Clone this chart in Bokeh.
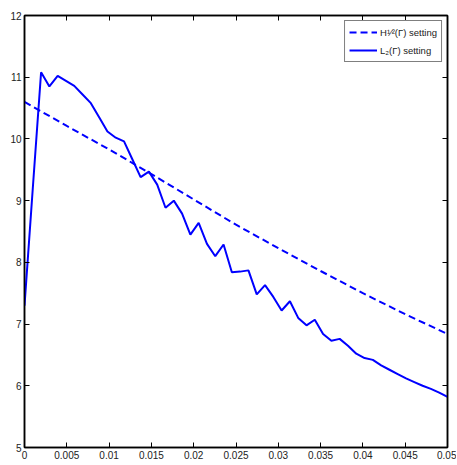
import numpy as np
from bokeh.plotting import figure
from bokeh.models import (Range1d, LinearAxis, FixedTicker, CustomJSTickFormatter,
                          Legend, LegendItem)
from bokeh.embed import file_html
from bokeh.resources import INLINE

# ---- data ----
x_ticks = [0, 0.005, 0.01, 0.015, 0.02, 0.025, 0.03, 0.035, 0.04, 0.045, 0.05]
y_ticks = [5, 6, 7, 8, 9, 10, 11, 12]

h_half_x = [0, 0.005, 0.01, 0.015, 0.02, 0.025, 0.03, 0.035, 0.04, 0.045, 0.05]
h_half_values = [10.60, 10.21, 9.83, 9.43, 9.02, 8.61, 8.23, 7.86, 7.50, 7.16, 6.84]

l2_values = [7.30, 9.20, 11.08, 10.85, 11.02, 10.94, 10.86, 10.72, 10.58, 10.35,
             10.12, 10.02, 9.96, 9.67, 9.38, 9.47, 9.26, 8.885, 9.00, 8.79,
             8.45, 8.64, 8.30, 8.10, 8.29, 7.84, 7.85, 7.87, 7.48, 7.63,
             7.44, 7.22, 7.37, 7.10, 6.98, 7.07, 6.84, 6.73, 6.76, 6.65,
             6.52, 6.45, 6.42, 6.33, 6.26, 6.19, 6.12, 6.06, 6.00, 5.95,
             5.89, 5.82]
l2_x = np.linspace(0, 0.05, len(l2_values))

legend_labels = ["H\u00b9\u2044\u00b2(\u0393) setting", "L\u2082(\u0393) setting"]

FONT = "Liberation Sans"
BLUE = "#0000ff"

p = figure(frame_width=423, frame_height=432,
           x_range=Range1d(0, 0.05), y_range=Range1d(5, 12),
           output_backend="svg", toolbar_location=None,
           min_border_left=24, min_border_right=9,
           min_border_top=15, min_border_bottom=17,
           background_fill_color="white", border_fill_color="white")
p.xgrid.visible = False
p.ygrid.visible = False
p.outline_line_color = "black"
p.outline_line_width = 1.5

fmt = CustomJSTickFormatter(code="""
let s = tick.toFixed(3);
s = s.replace(/0+$/, '').replace(/\\.$/, '');
return s;
""")
blank = CustomJSTickFormatter(code="return '';")


def style(ax, ticks, formatter, show):
    ax.ticker = FixedTicker(ticks=ticks)
    ax.formatter = formatter
    ax.axis_line_color = "black"
    ax.axis_line_width = 1.5
    ax.major_tick_in = 5
    ax.major_tick_out = 0
    ax.major_tick_line_color = "black"
    ax.major_tick_line_width = 1
    ax.minor_tick_line_color = None
    ax.major_label_text_font = FONT
    ax.major_label_text_font_size = "10px"
    ax.major_label_text_color = "#222222"
    ax.major_label_standoff = 3 if show else 0


style(p.xaxis[0], x_ticks, fmt, True)
style(p.yaxis[0], y_ticks, fmt, True)
ax_top = LinearAxis()
style(ax_top, x_ticks, blank, False)
p.add_layout(ax_top, "above")
ax_right = LinearAxis()
style(ax_right, y_ticks, blank, False)
p.add_layout(ax_right, "right")

r_h = p.line(h_half_x, h_half_values, line_color=BLUE, line_width=2, line_dash="7 4")
r_l = p.line(l2_x, l2_values, line_color=BLUE, line_width=2)

legend = Legend(items=[LegendItem(label=legend_labels[0], renderers=[r_h]),
                       LegendItem(label=legend_labels[1], renderers=[r_l])],
                location="top_right")
legend.border_line_color = "black"
legend.border_line_width = 1
legend.background_fill_color = "white"
legend.background_fill_alpha = 1
legend.label_text_font = FONT
legend.label_text_font_size = "9.5px"
legend.label_text_color = "#222222"
legend.label_standoff = 3
legend.glyph_width = 28
legend.glyph_height = 14
legend.label_height = 14
legend.spacing = 4
legend.padding = 4
legend.margin = 5
p.add_layout(legend)

open("out.html", "w").write(file_html(p, INLINE))
